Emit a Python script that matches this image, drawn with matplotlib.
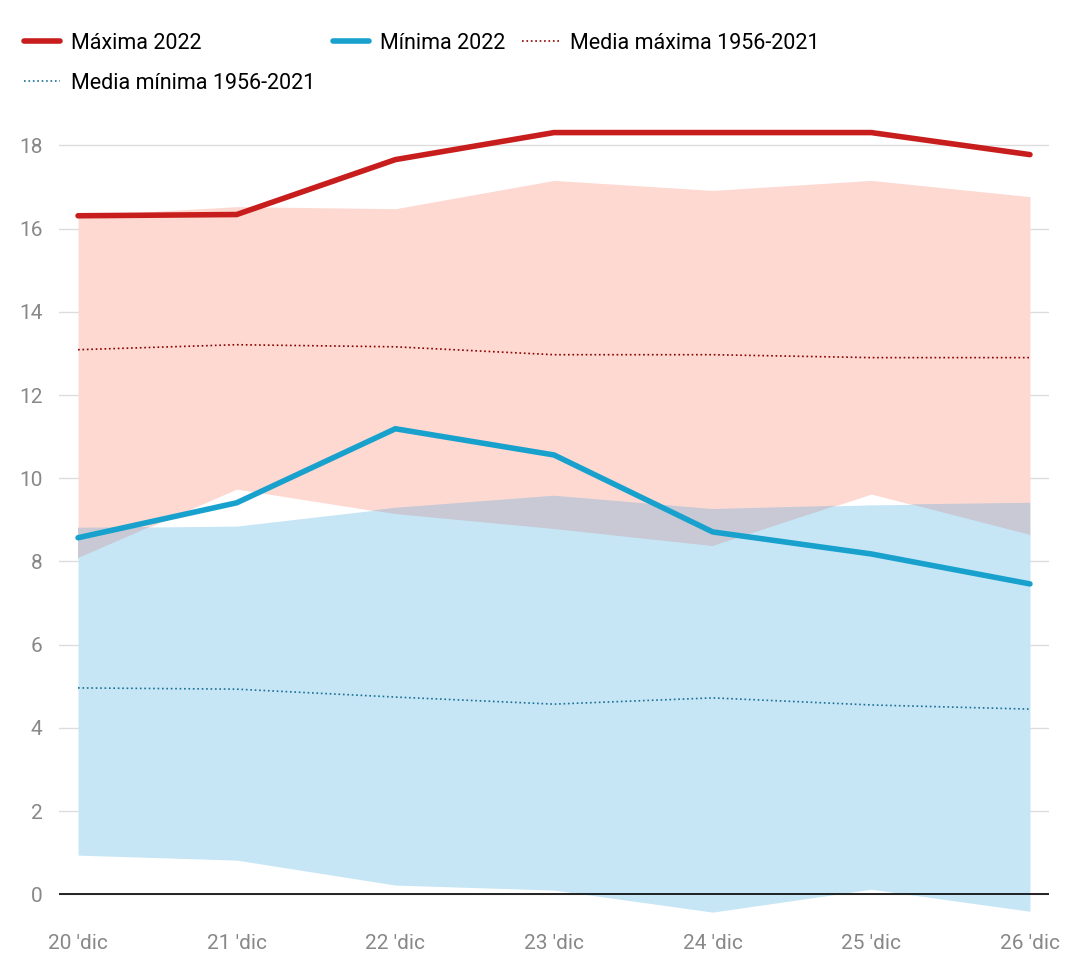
import numpy as np
import matplotlib.pyplot as plt

days = ["20 'dic", "21 'dic", "22 'dic", "23 'dic", "24 'dic", "25 'dic", "26 'dic"]
max_2022 = [16.31, 16.34, 17.66, 18.31, 18.31, 18.31, 17.78]
min_2022 = [8.57, 9.41, 11.19, 10.56, 8.71, 8.18, 7.46]
media_max = [13.09, 13.21, 13.16, 12.97, 12.97, 12.90, 12.90]
media_min = [4.96, 4.93, 4.74, 4.57, 4.72, 4.55, 4.45]
max_band_hi = [16.31, 16.53, 16.48, 17.16, 16.92, 17.16, 16.77]
max_band_lo = [8.08, 9.74, 9.14, 8.78, 8.37, 9.62, 8.64]
min_band_hi = [8.81, 8.85, 9.29, 9.58, 9.26, 9.36, 9.41]
min_band_lo = [0.94, 0.82, 0.22, 0.10, -0.43, 0.12, -0.41]

plt.rcParams['font.family'] = ['Roboto', 'DejaVu Sans']
fig = plt.figure(figsize=(10.88, 9.74), dpi=100)
ax = fig.add_axes([59 / 1088, 0.052, 990 / 1088, 0.820])
x = np.arange(len(days))

ax.fill_between(x, max_band_lo, max_band_hi, color='#fdd9d2', lw=0)
ax.fill_between(x, min_band_lo, min_band_hi, color='#c6e6f6', lw=0)
olo = np.maximum(max_band_lo, min_band_lo)
ohi = np.minimum(max_band_hi, min_band_hi)
ax.fill_between(x, olo, ohi, where=ohi > olo, interpolate=True, color='#c8c9d4', lw=0)

h1, = ax.plot(x, max_2022, color='#c71e1d', lw=4, label='Máxima 2022', solid_capstyle='round')
h2, = ax.plot(x, min_2022, color='#18a1cd', lw=4, label='Mínima 2022', solid_capstyle='round')
h3, = ax.plot(x, media_max, color='#8b0000', lw=1.2, ls=':', label='Media máxima 1956-2021')
h4, = ax.plot(x, media_min, color='#1a6f96', lw=1.2, ls=':', label='Media mínima 1956-2021')

ax.set_xlim(-0.12, 6.12)
ax.set_ylim(-0.7, 18.5)
ax.set_yticks(range(0, 19, 2))
ax.set_xticks(x)
ax.set_xticklabels(days)
ax.grid(axis='y', color='#dddddd', lw=1)
ax.set_axisbelow(True)
ax.axhline(0, color='black', lw=1.2)
for s in ax.spines.values():
    s.set_visible(False)
ax.tick_params(length=0, labelsize=15, colors='#888888', pad=8)
ax.tick_params(axis='y', pad=12)

# column-major fill: order so that row 1 = h1, h2, h3 and row 2 = h4
handles = [h1, h4, h2, h3]
fig.legend(handles, [h.get_label() for h in handles], loc='upper left',
           bbox_to_anchor=(0.008, 0.982), ncol=3, frameon=False,
           fontsize=15.5, handlelength=1.7, handletextpad=0.5,
           columnspacing=0.8, labelspacing=0.9, borderaxespad=0.3)
fig.savefig('out.png', dpi=100)
